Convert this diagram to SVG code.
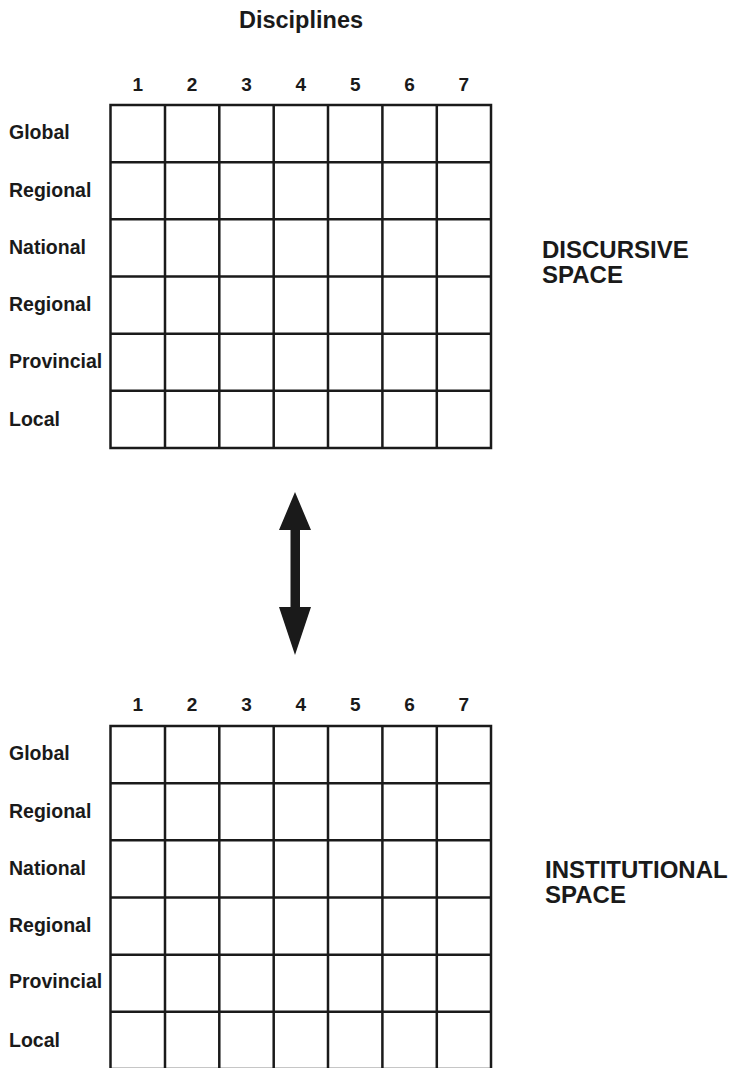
<svg xmlns="http://www.w3.org/2000/svg" width="733" height="1068" viewBox="0 0 733 1068">
<style>
text{font-family:"Liberation Sans",Arial,sans-serif;font-weight:bold;fill:#1a1a1a}
.lbl{font-size:19.5px}
.num{font-size:19px;text-anchor:middle}
.title{font-size:23.5px;text-anchor:middle}
.space{font-size:24px}
.grid{fill:none;stroke:#1a1a1a;stroke-width:2.5}
</style>
<rect width="733" height="1068" fill="#fff"/>
<text class="title" x="301" y="28">Disciplines</text>

<g id="discursive-grid">
<g class="grid">
<rect x="110.5" y="105" width="380.5" height="343"/>
<path d="M165 105V448M219.3 105V448M273.7 105V448M328 105V448M382.4 105V448M436.8 105V448"/>
<path d="M110.5 162.2H491M110.5 219.3H491M110.5 276.5H491M110.5 333.7H491M110.5 390.8H491"/>
</g>
<text class="num" x="137.7" y="91">1</text>
<text class="num" x="192.1" y="91">2</text>
<text class="num" x="246.5" y="91">3</text>
<text class="num" x="300.9" y="91">4</text>
<text class="num" x="355.2" y="91">5</text>
<text class="num" x="409.6" y="91">6</text>
<text class="num" x="463.9" y="91">7</text>
<text class="lbl" x="9" y="139">Global</text>
<text class="lbl" x="9" y="196.5">Regional</text>
<text class="lbl" x="9" y="253.5">National</text>
<text class="lbl" x="9" y="310.5">Regional</text>
<text class="lbl" x="9" y="368">Provincial</text>
<text class="lbl" x="9" y="426">Local</text>
</g>
<g id="discursive-label">
<text class="space" x="542" y="258">DISCURSIVE</text>
<text class="space" x="542" y="283">SPACE</text>
</g>

<g id="connectors">
<polygon fill="#1a1a1a" points="295,492 311,530 300,530 300,607 311,607 295,655 279,607 290.5,607 290.5,530 279,530"/>
</g>

<g id="institutional-grid">
<g class="grid">
<rect x="110.5" y="726" width="380.5" height="343"/>
<path d="M165 726V1069M219.3 726V1069M273.7 726V1069M328 726V1069M382.4 726V1069M436.8 726V1069"/>
<path d="M110.5 783.2H491M110.5 840.3H491M110.5 897.5H491M110.5 954.7H491M110.5 1011.8H491"/>
</g>
<text class="num" x="137.7" y="711">1</text>
<text class="num" x="192.1" y="711">2</text>
<text class="num" x="246.5" y="711">3</text>
<text class="num" x="300.9" y="711">4</text>
<text class="num" x="355.2" y="711">5</text>
<text class="num" x="409.6" y="711">6</text>
<text class="num" x="463.9" y="711">7</text>
<text class="lbl" x="9" y="760">Global</text>
<text class="lbl" x="9" y="817.5">Regional</text>
<text class="lbl" x="9" y="874.5">National</text>
<text class="lbl" x="9" y="931.5">Regional</text>
<text class="lbl" x="9" y="988">Provincial</text>
<text class="lbl" x="9" y="1046.5">Local</text>
</g>
<g id="institutional-label">
<text class="space" x="545" y="878">INSTITUTIONAL</text>
<text class="space" x="545" y="903">SPACE</text>
</g>
</svg>
